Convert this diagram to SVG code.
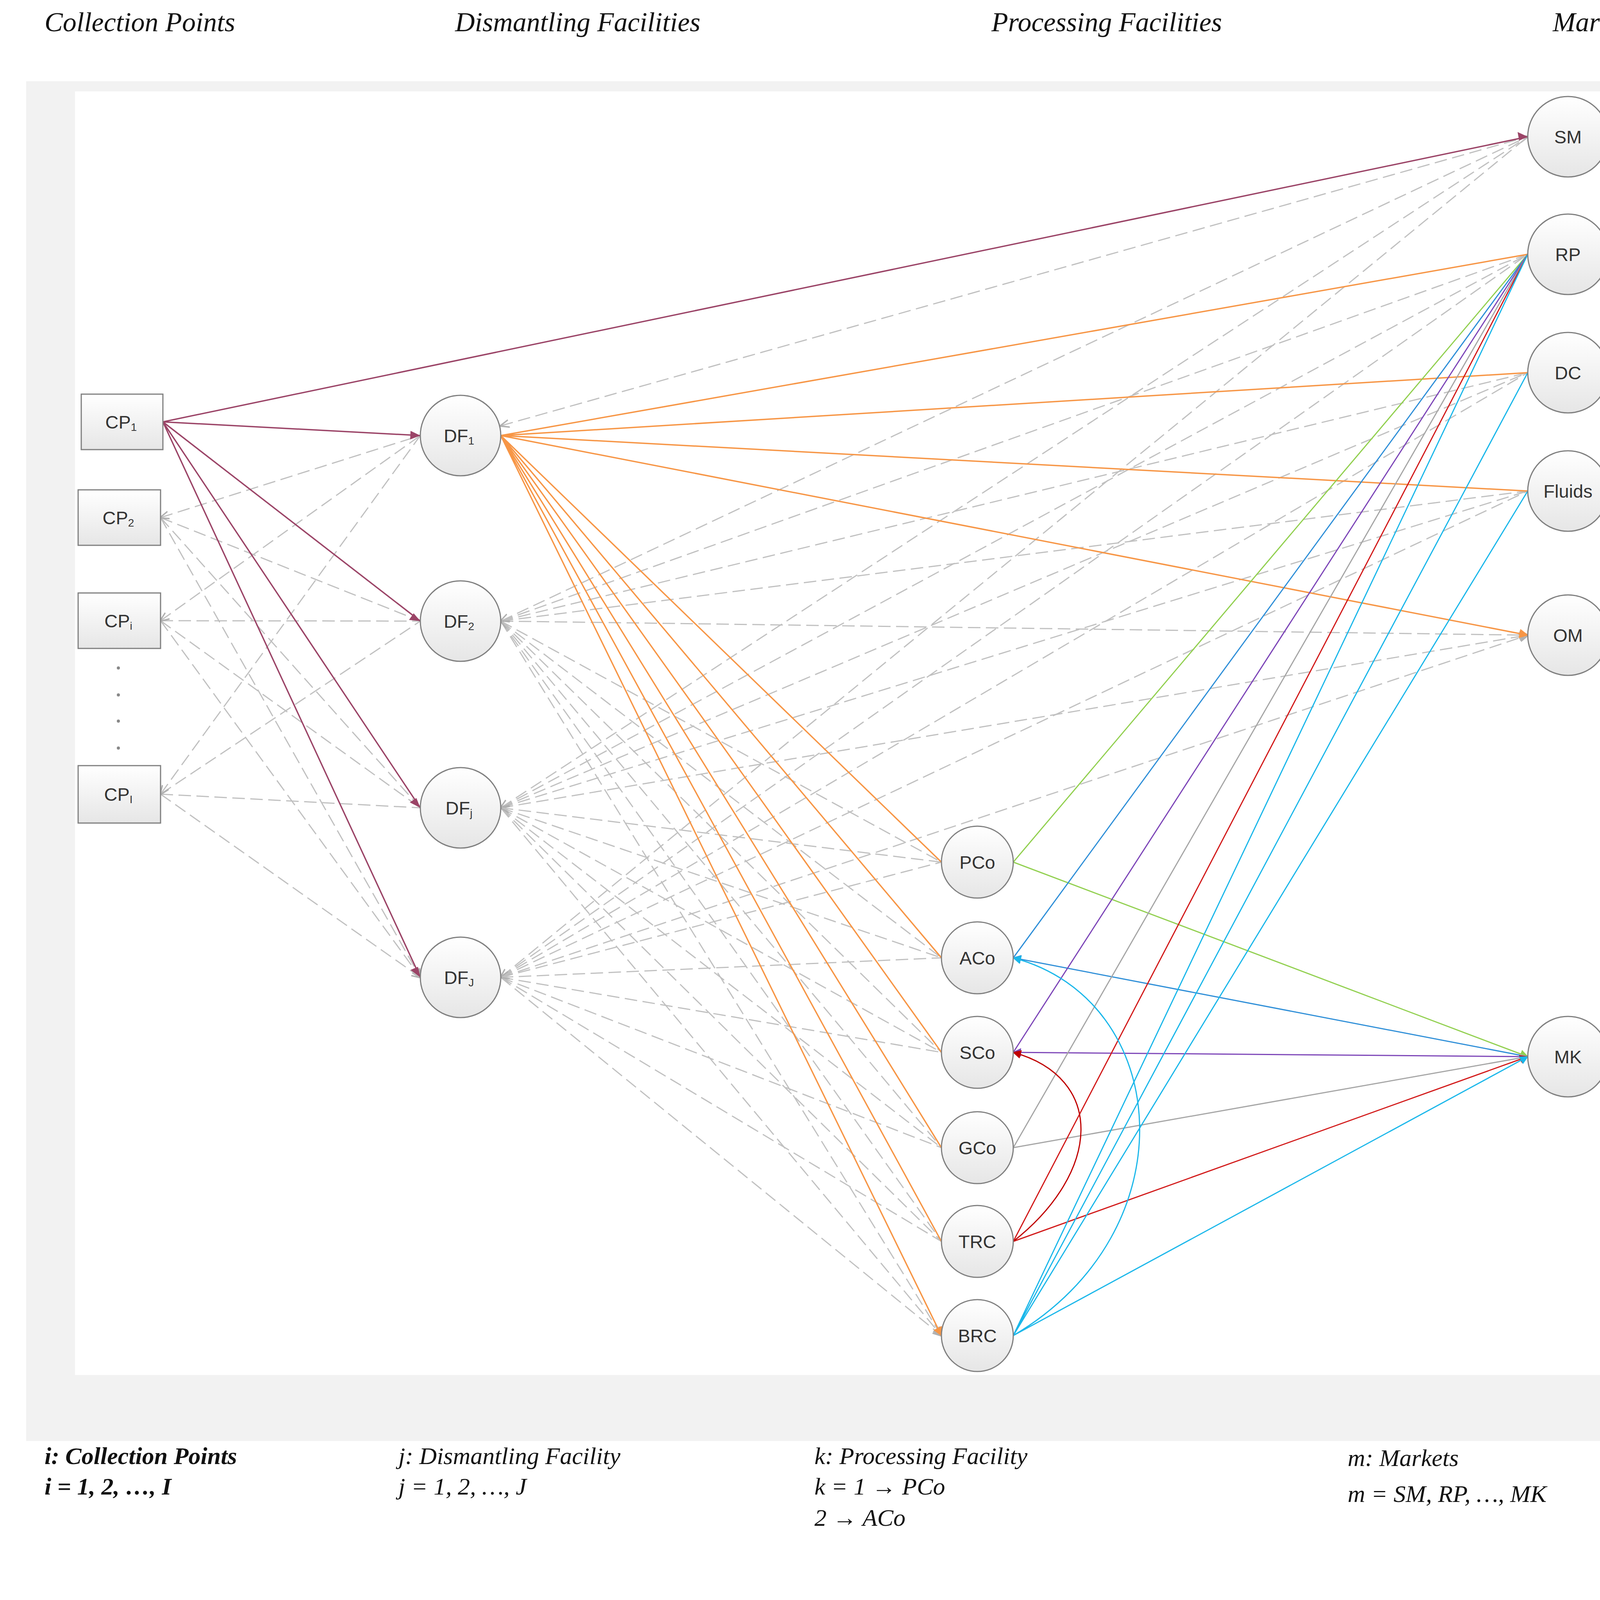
<svg xmlns="http://www.w3.org/2000/svg" width="4310" height="4179" viewBox="0 0 4310 4179">
<defs>
<linearGradient id="g" x1="0" y1="0" x2="0" y2="1"><stop offset="0" stop-color="#ffffff"/><stop offset="1" stop-color="#e6e6e6"/></linearGradient>
<marker id="mOr" viewBox="0 0 10 10" refX="9" refY="5" markerWidth="24" markerHeight="24" orient="auto-start-reverse" markerUnits="userSpaceOnUse"><path d="M0,0L10,5L0,10z" fill="#f79646"/></marker>
<marker id="mGr" viewBox="0 0 10 10" refX="9" refY="5" markerWidth="24" markerHeight="24" orient="auto-start-reverse" markerUnits="userSpaceOnUse"><path d="M0,1L10,5L0,9" fill="none" stroke="#b0b0b0" stroke-width="1.5"/></marker>
<marker id="mGn" viewBox="0 0 10 10" refX="9" refY="5" markerWidth="22" markerHeight="22" orient="auto-start-reverse" markerUnits="userSpaceOnUse"><path d="M0,0L10,5L0,10z" fill="#92d050"/></marker>
<marker id="mBl" viewBox="0 0 10 10" refX="9" refY="5" markerWidth="22" markerHeight="22" orient="auto-start-reverse" markerUnits="userSpaceOnUse"><path d="M0,0L10,5L0,10z" fill="#2f8fd8"/></marker>
<marker id="mPu" viewBox="0 0 10 10" refX="9" refY="5" markerWidth="22" markerHeight="22" orient="auto-start-reverse" markerUnits="userSpaceOnUse"><path d="M0,0L10,5L0,10z" fill="#7d46b8"/></marker>
<marker id="mRe" viewBox="0 0 10 10" refX="9" refY="5" markerWidth="22" markerHeight="22" orient="auto-start-reverse" markerUnits="userSpaceOnUse"><path d="M0,0L10,5L0,10z" fill="#c00000"/></marker>
<marker id="mCy" viewBox="0 0 10 10" refX="9" refY="5" markerWidth="22" markerHeight="22" orient="auto-start-reverse" markerUnits="userSpaceOnUse"><path d="M0,0L10,5L0,10z" fill="#1ab7ea"/></marker>
<marker id="mG2" viewBox="0 0 10 10" refX="9" refY="5" markerWidth="22" markerHeight="22" orient="auto-start-reverse" markerUnits="userSpaceOnUse"><path d="M0,0L10,5L0,10z" fill="#a6a6a6"/></marker>
</defs>
<style>
.hd{font-family:"Liberation Serif",serif;font-style:italic;font-size:70px;fill:#111}
.ft{font-family:"Liberation Serif",serif;font-style:italic;font-size:62px;fill:#111}
.lb{font-family:"Liberation Sans",Arial,sans-serif;font-size:47px;fill:#333;text-anchor:middle}
.sb{font-size:28px}
.nd{fill:url(#g);stroke:#7f7f7f;stroke-width:3}
.da{fill:none;stroke:#c0c0c0;stroke-width:3;stroke-dasharray:32 14;marker-end:url(#mGr);marker-start:url(#mGr)}
.ma{fill:none;stroke:#9b4467;stroke-width:3.5}
.or{fill:none;stroke:#f79646;stroke-width:3.5;marker-end:url(#mOr)}
</style>
<rect x="67" y="208" width="4200" height="3481" fill="#f2f2f2"/>
<rect x="192" y="234" width="3945" height="3286" fill="#ffffff"/>
<g id="headers">
<text class="hd" x="114" y="80">Collection Points</text>
<text class="hd" x="1165" y="80">Dismantling Facilities</text>
<text class="hd" x="2538" y="80">Processing Facilities</text>
<text class="hd" x="3975" y="80">Market</text>
</g>
<g id="connectors">
<path class="da" d="M411 1325L1076 1115M411 1325L1076 1590M411 1325L1076 2068M411 1325L1076 2502"/>
<path class="da" d="M411 1589L1076 1115M411 1589L1076 1590M411 1589L1076 2068M411 1589L1076 2502"/>
<path class="da" d="M411 2033L1076 1115M411 2033L1076 1590M411 2033L1076 2068M411 2033L1076 2502"/>
<path class="da" d="M1282 1090L3911 350"/>
<path class="da" d="M1282 1590L3911 350M1282 1590L3911 651M1282 1590L3911 954M1282 1590L3911 1257M1282 1590L3911 1626"/>
<path class="da" d="M1282 2068L3911 350M1282 2068L3911 651M1282 2068L3911 954M1282 2068L3911 1257M1282 2068L3911 1626"/>
<path class="da" d="M1282 2502L3911 350M1282 2502L3911 651M1282 2502L3911 954M1282 2502L3911 1257M1282 2502L3911 1626"/>
<path class="da" d="M1282 1590L2410 2207M1282 1590L2410 2452M1282 1590L2410 2694M1282 1590L2410 2938M1282 1590L2410 3178M1282 1590L2410 3419"/>
<path class="da" d="M1282 2068L2410 2207M1282 2068L2410 2452M1282 2068L2410 2694M1282 2068L2410 2938M1282 2068L2410 3178M1282 2068L2410 3419"/>
<path class="da" d="M1282 2502L2410 2207M1282 2502L2410 2452M1282 2502L2410 2694M1282 2502L2410 2938M1282 2502L2410 3178M1282 2502L2410 3419"/>
<g class="ma">
<path d="M417 1080L3911 350"/>
<path d="M417 1080L1076 1115"/>
<path d="M417 1080L1076 1590"/>
<path d="M417 1080L1076 2068"/>
<path d="M417 1080L1076 2502"/>
</g>
<g fill="#9b4467">
<path d="M3911 350l-26 -12l4 22z"/>
<path d="M1076 1115l-25 -12l-1 22z"/>
<path d="M1076 1590l-17 -20l-12 17z"/>
<path d="M1076 2068l-10 -25l-17 11z"/>
<path d="M1076 2502l-6 -27l-19 8z"/>
</g>
<path class="or" d="M1282 1115L3911 651M1282 1115L3911 954M1282 1115L3911 1257M1282 1115L3911 1626"/>
<path class="or" d="M1282 1115L2410 2207M1282 1115L2410 2452M1282 1115L2410 2694M1282 1115L2410 2938M1282 1115L2410 3178M1282 1115L2410 3419"/>
<path d="M2594 2207L3911 651M2594 2207L3911 2705" fill="none" stroke="#92d050" stroke-width="3" marker-end="url(#mGn)"/>
<path d="M3911 651L2594 2452M3911 2705L2594 2452" fill="none" stroke="#2f8fd8" stroke-width="3" marker-end="url(#mBl)"/>
<path d="M3911 651L2594 2694M3911 2705L2594 2694" fill="none" stroke="#7d46b8" stroke-width="3" marker-end="url(#mPu)"/>
<path d="M2594 2938L3911 651M2594 2938L3911 2705" fill="none" stroke="#a6a6a6" stroke-width="3" marker-end="url(#mG2)"/>
<path d="M2594 3178L3911 651M2594 3178L3911 2705" fill="none" stroke="#d21a1a" stroke-width="3" marker-end="url(#mRe)"/>
<path d="M2594 3178C2820 3000 2830 2760 2594 2694" fill="none" stroke="#c00000" stroke-width="3" marker-end="url(#mRe)"/>
<path d="M2594 3419L3911 651M2594 3419L3911 954M2594 3419L3911 1257M2594 3419L3911 2705" fill="none" stroke="#1ab7ea" stroke-width="3" marker-end="url(#mCy)"/>
<path d="M2594 3419C3050 3150 3000 2560 2594 2452" fill="none" stroke="#1ab7ea" stroke-width="3" marker-end="url(#mCy)"/>
</g>
<g id="CP1"><rect class="nd" x="208" y="1009" width="209" height="142"/><text class="lb" x="310" y="1097">CP<tspan class="sb" dy="6">1</tspan></text></g>
<g id="CP2"><rect class="nd" x="200" y="1254" width="211" height="142"/><text class="lb" x="303" y="1342">CP<tspan class="sb" dy="6">2</tspan></text></g>
<g id="CPi"><rect class="nd" x="200" y="1518" width="211" height="142"/><text class="lb" x="303" y="1606">CP<tspan class="sb" dy="6">i</tspan></text></g>
<g id="dots" fill="#888"><circle cx="303" cy="1710" r="4"/><circle cx="303" cy="1779" r="4"/><circle cx="303" cy="1846" r="4"/><circle cx="303" cy="1915" r="4"/></g>
<g id="CPI"><rect class="nd" x="200" y="1960" width="211" height="147"/><text class="lb" x="303" y="2050">CP<tspan class="sb" dy="6">I</tspan></text></g>
<g id="DF1"><circle class="nd" cx="1179" cy="1115" r="103"/><text class="lb" x="1175" y="1132">DF<tspan class="sb" dy="6">1</tspan></text></g>
<g id="DF2"><circle class="nd" cx="1179" cy="1590" r="103"/><text class="lb" x="1175" y="1607">DF<tspan class="sb" dy="6">2</tspan></text></g>
<g id="DFj"><circle class="nd" cx="1179" cy="2068" r="103"/><text class="lb" x="1175" y="2085">DF<tspan class="sb" dy="6">j</tspan></text></g>
<g id="DFJ"><circle class="nd" cx="1179" cy="2502" r="103"/><text class="lb" x="1175" y="2519">DF<tspan class="sb" dy="6">J</tspan></text></g>
<g id="PCo"><circle class="nd" cx="2502" cy="2207" r="92"/><text class="lb" x="2502" y="2224">PCo</text></g>
<g id="ACo"><circle class="nd" cx="2502" cy="2452" r="92"/><text class="lb" x="2502" y="2469">ACo</text></g>
<g id="SCo"><circle class="nd" cx="2502" cy="2694" r="92"/><text class="lb" x="2502" y="2711">SCo</text></g>
<g id="GCo"><circle class="nd" cx="2502" cy="2938" r="92"/><text class="lb" x="2502" y="2955">GCo</text></g>
<g id="TRC"><circle class="nd" cx="2502" cy="3178" r="92"/><text class="lb" x="2502" y="3195">TRC</text></g>
<g id="BRC"><circle class="nd" cx="2502" cy="3419" r="92"/><text class="lb" x="2502" y="3436">BRC</text></g>
<g id="SM"><circle class="nd" cx="4014" cy="350" r="103"/><text class="lb" x="4014" y="367">SM</text></g>
<g id="RP"><circle class="nd" cx="4014" cy="651" r="103"/><text class="lb" x="4014" y="668">RP</text></g>
<g id="DC"><circle class="nd" cx="4014" cy="954" r="103"/><text class="lb" x="4014" y="971">DC</text></g>
<g id="Fluids"><circle class="nd" cx="4014" cy="1257" r="103"/><text class="lb" x="4014" y="1274">Fluids</text></g>
<g id="OM"><circle class="nd" cx="4014" cy="1626" r="103"/><text class="lb" x="4014" y="1643">OM</text></g>
<g id="MK"><circle class="nd" cx="4014" cy="2705" r="103"/><text class="lb" x="4014" y="2722">MK</text></g>
<g id="legend">
<text class="ft" x="114" y="3748" font-weight="bold">i: Collection Points</text>
<text class="ft" x="114" y="3826" font-weight="bold">i = 1, 2, …, I</text>
<text class="ft" x="1020" y="3748">j: Dismantling Facility</text>
<text class="ft" x="1020" y="3826">j = 1, 2,  …, J</text>
<text class="ft" x="2085" y="3748">k: Processing Facility</text>
<text class="ft" x="2085" y="3826">k = 1 → PCo</text>
<text class="ft" x="2085" y="3906">2 → ACo</text>
<text class="ft" x="2085" y="4150">K → BRC</text>
<text class="ft" x="3450" y="3753">m: Markets</text>
<text class="ft" x="3450" y="3845">m = SM, RP, …, MK</text>
</g>
</svg>
